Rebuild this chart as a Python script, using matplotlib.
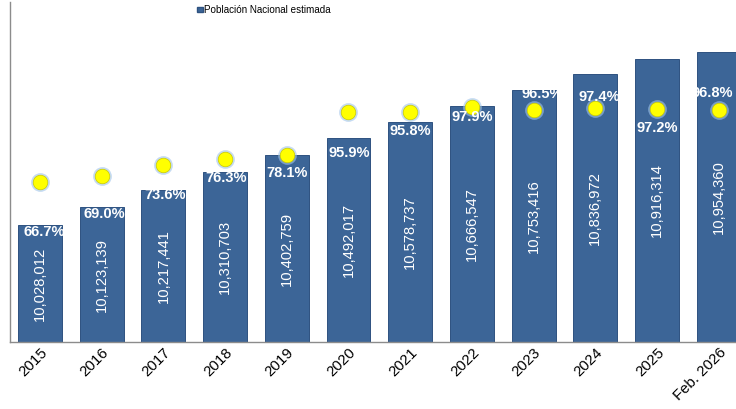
import matplotlib
matplotlib.use("Agg")
import matplotlib.pyplot as plt
from matplotlib.patches import Patch

# ---- data ----
categories = ["2015", "2016", "2017", "2018", "2019", "2020", "2021", "2022",
              "2023", "2024", "2025", "Feb. 2026"]
population = [10028012, 10123139, 10217441, 10310703, 10402759, 10492017,
              10578737, 10666547, 10753416, 10836972, 10916314, 10954360]
coverage_pct = [66.7, 69.0, 73.6, 76.3, 78.1, 95.9, 95.8, 97.9, 96.5, 97.4, 97.2, 96.8]
legend_label = "Población Nacional estimada"

# ---- style: offsets (pixels) of percentage labels relative to bar top ----
pct_dx = [4, 3, 1.5, 1, 0, 1, 0.5, 0, 9, 4, 0, -6]
pct_dy = [-7, -6.5, -5, -6, -18, -15, -9, -11, -4, -23, -69, -41]

plt.rcParams['font.family'] = ['Liberation Sans', 'DejaVu Sans']

BAR = "#3c6597"
fig = plt.figure(figsize=(7.36, 4.09), dpi=100)
ax = fig.add_axes([10.3 / 736, 67 / 409, 1 - 10.3 / 736, 340 / 409])

x = list(range(len(categories)))
ymin = 9.4027e6
bars = ax.bar(x, [p - ymin for p in population], bottom=ymin, width=0.713,
              color=BAR, edgecolor="#2e5280", linewidth=0.7, zorder=2)
ax.set_xlim(-0.481, 11.28)
ax.set_ylim(ymin, ymin + 340 / 186.9 * 1e6)

# value labels inside bars
for xi, p in zip(x, population):
    ax.text(xi, (p + ymin) / 2, f"{p:,}", rotation=90, ha="center", va="center",
            color="white", fontsize=10.6, zorder=5)

for s in ["top", "right"]:
    ax.spines[s].set_visible(False)
for s in ["left", "bottom"]:
    ax.spines[s].set_color("#8c8c8c")
    ax.spines[s].set_linewidth(1.0)
ax.set_yticks([])
ax.set_xticks(x)
ax.set_xticklabels(categories, rotation=45, ha="right", va="top",
                   rotation_mode="anchor", fontsize=10.8)
ax.tick_params(axis="x", length=0, pad=2.5)

# secondary axis for percentages
ax2 = ax.twinx()
ax2.set_ylim(0, 141.7)
ax2.set_yticks([])
for s in ax2.spines.values():
    s.set_visible(False)
ax2.plot(x, coverage_pct, linestyle="none", marker="o", markersize=13.5,
         markerfacecolor="#9fc3ea", markeredgecolor="none", alpha=0.6, zorder=3)
ax2.plot(x, coverage_pct, linestyle="none", marker="o", markersize=10.5,
         markerfacecolor="#ffff00", markeredgecolor="#c9c900", markeredgewidth=0.5,
         zorder=4)

# percentage labels near bar tops
for xi, p, pc, dx, dy in zip(x, population, coverage_pct, pct_dx, pct_dy):
    ax2.annotate(f"{pc:.1f}%", xy=(xi, (p - ymin) / (ax.get_ylim()[1] - ymin) * 141.7),
                 xytext=(dx, dy), textcoords="offset pixels", ha="center", va="center",
                 color="white", fontsize=10.5, fontweight="bold", zorder=6)

# legend
ax2.legend(handles=[Patch(facecolor=BAR, edgecolor="#2e5280", label=legend_label)],
           loc="center", bbox_to_anchor=(264 / 736, 1 - 10 / 409),
           bbox_transform=fig.transFigure, frameon=False, fontsize=7.1,
           handlelength=0.55, handleheight=0.55, handletextpad=0.15, borderpad=0)

fig.savefig("out.png", dpi=100)
